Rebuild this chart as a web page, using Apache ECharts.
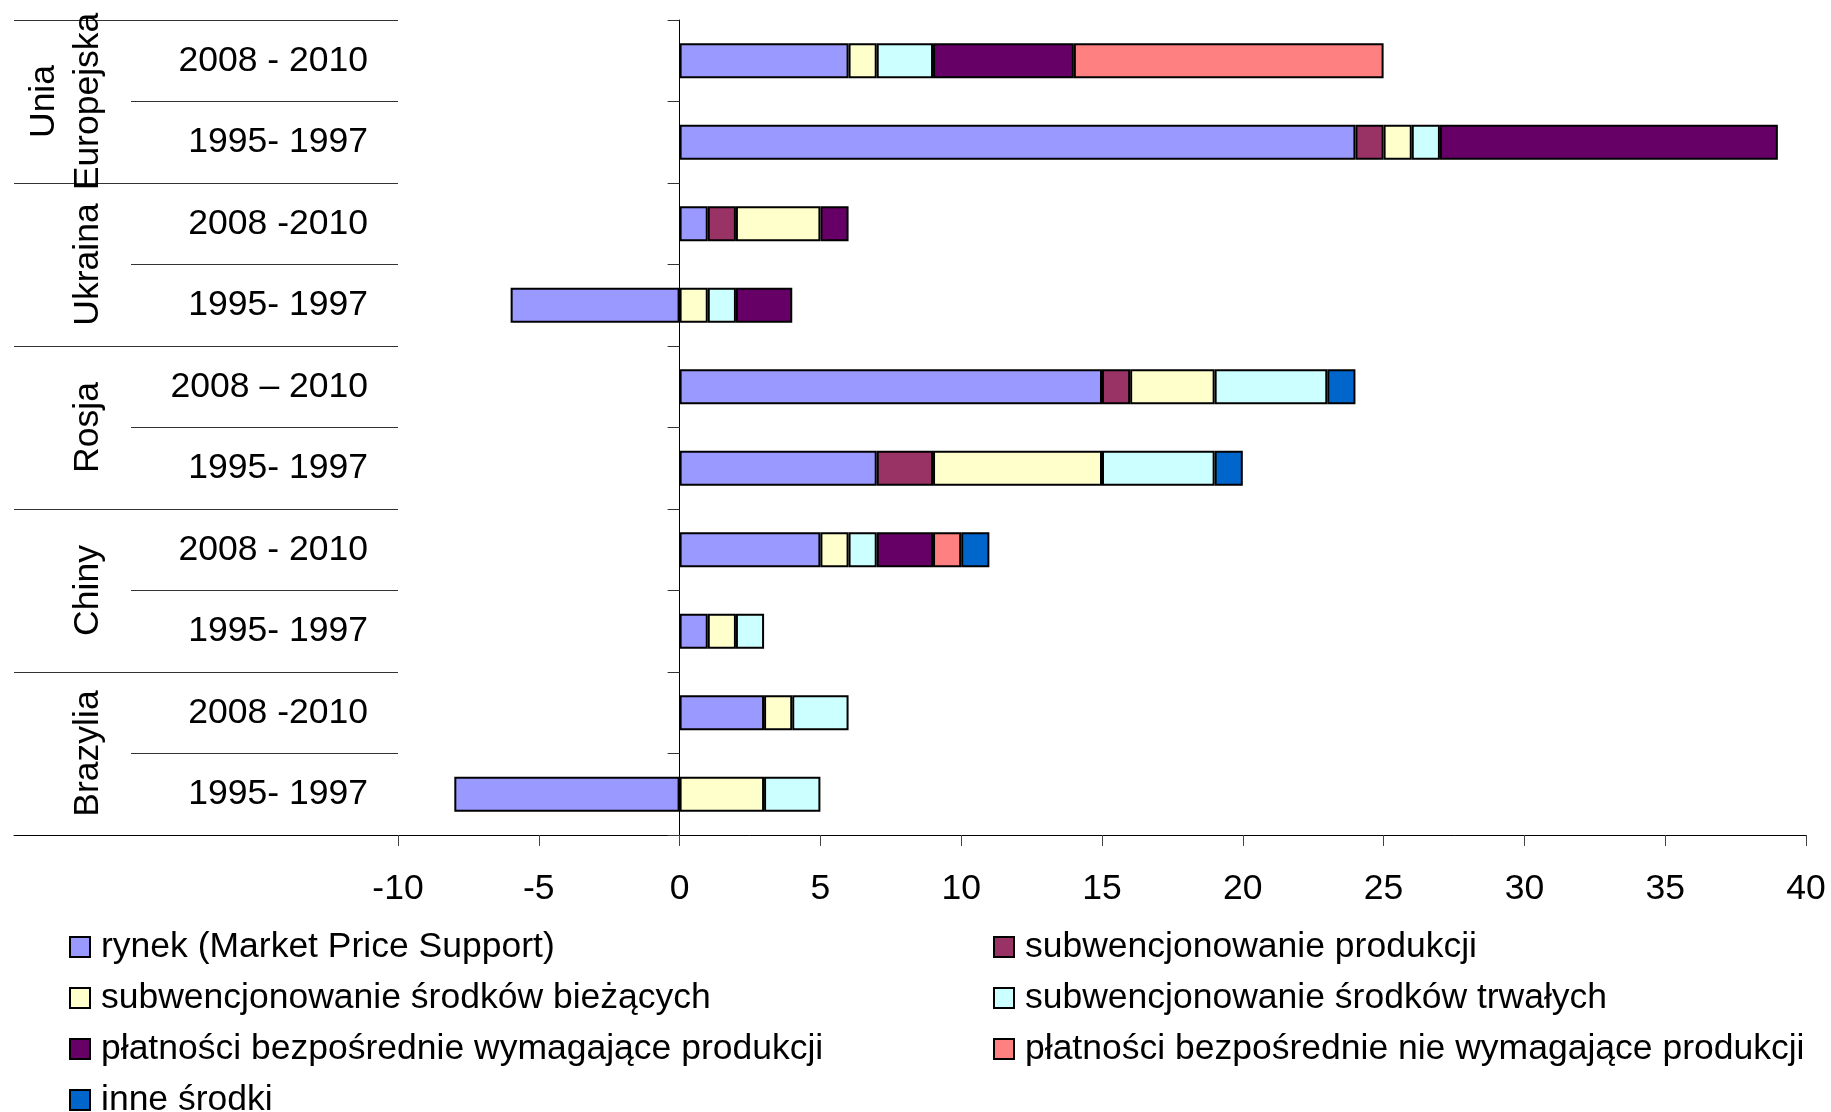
<!DOCTYPE html>
<html><head><meta charset="utf-8">
<script src="https://cdn.jsdelivr.net/npm/echarts@6/dist/echarts.min.js"></script>
<style>html,body{margin:0;padding:0;background:#fff}#c{width:1831px;height:1112px}</style>
</head><body><div id="c"></div>
<script>
// Categories (top to bottom)
const groups = ['Unia\nEuropejska', 'Ukraina', 'Rosja', 'Chiny', 'Brazylia'];
const periods = ['2008 - 2010', '1995- 1997', '2008 -2010', '1995- 1997', '2008 – 2010',
                 '1995- 1997', '2008 - 2010', '1995- 1997', '2008 -2010', '1995- 1997'];
// Series values, one entry per period row (null = no segment)
const rynek          = [6, 24, 1, -6, 15, 7, 5, 1, 3, -8];
const subwProdukcji  = [null, 1, 1, null, 1, 2, null, null, null, null];
const subwBiezacych  = [1, 1, 3, 1, 3, 6, 1, 1, 1, 3];
const subwTrwalych   = [2, 1, null, 1, 4, 4, 1, 1, 2, 2];
const platWymag      = [5, 12, 1, 2, null, null, 2, null, null, null];
const platNieWymag   = [11, null, null, null, null, null, 1, null, null, null];
const inneSrodki     = [null, null, null, null, 1, 1, 1, null, null, null];
// Value axis ticks
const xTicks = [-10, -5, 0, 5, 10, 15, 20, 25, 30, 35, 40];

const names = [
  'rynek (Market Price Support)',
  'subwencjonowanie produkcji',
  'subwencjonowanie środków bieżących',
  'subwencjonowanie środków trwałych',
  'płatności bezpośrednie wymagające produkcji',
  'płatności bezpośrednie nie wymagające produkcji',
  'inne środki'
];
const values = [rynek, subwProdukcji, subwBiezacych, subwTrwalych, platWymag, platNieWymag, inneSrodki];
const colors = ['#9999FF', '#993366', '#FFFFCC', '#CCFFFF', '#660066', '#FF8080', '#0066CC'];

const FONT = '"Liberation Sans", Arial, sans-serif';
const FS = 35.5;
const rowKeys = periods.map((p, i) => String(i));
const groupKeys = groups.map((g, i) => String(i));

const chart = echarts.init(document.getElementById('c'), null, {renderer: 'canvas'});
const gridPos = {top: 20, bottom: 277};

const legendBase = {
  orient: 'vertical', top: 924, height: 260, itemGap: 15,
  itemWidth: 20, itemHeight: 20, icon: 'rect',
  itemStyle: {borderColor: '#000', borderWidth: 2},
  textStyle: {fontSize: FS, color: '#000', fontFamily: FONT, lineHeight: 36, padding: [0, 0, 0, 6]},
  selectedMode: false
};

chart.setOption({
  animation: false,
  backgroundColor: '#fff',
  textStyle: {fontFamily: FONT, color: '#000'},
  grid: [
    Object.assign({left: 398, right: 25}, gridPos),
    Object.assign({left: 131, width: 267}, gridPos),
    Object.assign({left: 14, width: 384}, gridPos)
  ],
  xAxis: [
    {
      gridIndex: 0, type: 'value', min: -10, max: 40, interval: 5,
      axisLine: {show: true, onZero: false, lineStyle: {color: '#000', width: 1}},
      axisTick: {show: true, length: 11, lineStyle: {color: '#444'}},
      axisLabel: {fontSize: FS, color: '#000', margin: 36, fontFamily: FONT,
                  formatter: v => xTicks.includes(v) ? String(v) : ''},
      splitLine: {show: false}
    },
    {gridIndex: 1, type: 'value', show: false},
    {
      gridIndex: 2, type: 'value', min: 0, max: 1,
      axisLine: {show: true, onZero: false, lineStyle: {color: '#000', width: 1}},
      axisTick: {show: false}, axisLabel: {show: false}, splitLine: {show: false}
    }
  ],
  yAxis: [
    {
      gridIndex: 0, type: 'category', data: rowKeys, inverse: true, position: 'left',
      axisLine: {show: true, onZero: true, lineStyle: {color: '#000', width: 1}},
      axisTick: {show: true, length: 12, interval: 0, lineStyle: {color: '#333'}},
      axisLabel: {show: false}, splitLine: {show: false}
    },
    {
      gridIndex: 1, type: 'category', data: rowKeys, inverse: true, position: 'right',
      axisLine: {show: false, onZero: false}, axisTick: {show: false},
      axisLabel: {show: true, inside: true, margin: 30, interval: 0, fontSize: FS, color: '#000',
                  fontFamily: FONT, padding: [4, 0, 0, 0], formatter: (v) => periods[+v]},
      splitLine: {show: true, interval: 0, lineStyle: {color: '#333', width: 1}}
    },
    {
      gridIndex: 2, type: 'category', data: groupKeys, inverse: true, position: 'left',
      axisLine: {show: false, onZero: false}, axisTick: {show: false},
      axisLabel: {show: true, inside: true, margin: 96, interval: 0, rotate: 90,
                  align: 'center', verticalAlign: 'bottom', lineHeight: 44,
                  fontSize: FS, color: '#000', fontFamily: FONT,
                  formatter: (v) => groups[+v]},
      splitLine: {show: true, interval: 0, lineStyle: {color: '#333', width: 1}}
    }
  ],
  legend: [
    Object.assign({}, legendBase, {data: [names[0], names[2], names[4], names[6]], left: 64}),
    Object.assign({}, legendBase, {data: [names[1], names[3], names[5]], left: 988})
  ],
  series: names.map((n, i) => ({
    name: n, type: 'bar', stack: 'total', xAxisIndex: 0, yAxisIndex: 0,
    barWidth: '43%',
    data: values[i].map(v => v === null ? '-' : v),
    itemStyle: {color: colors[i], borderColor: '#000', borderWidth: 2},
    emphasis: {disabled: true}
  }))
});
</script></body></html>
